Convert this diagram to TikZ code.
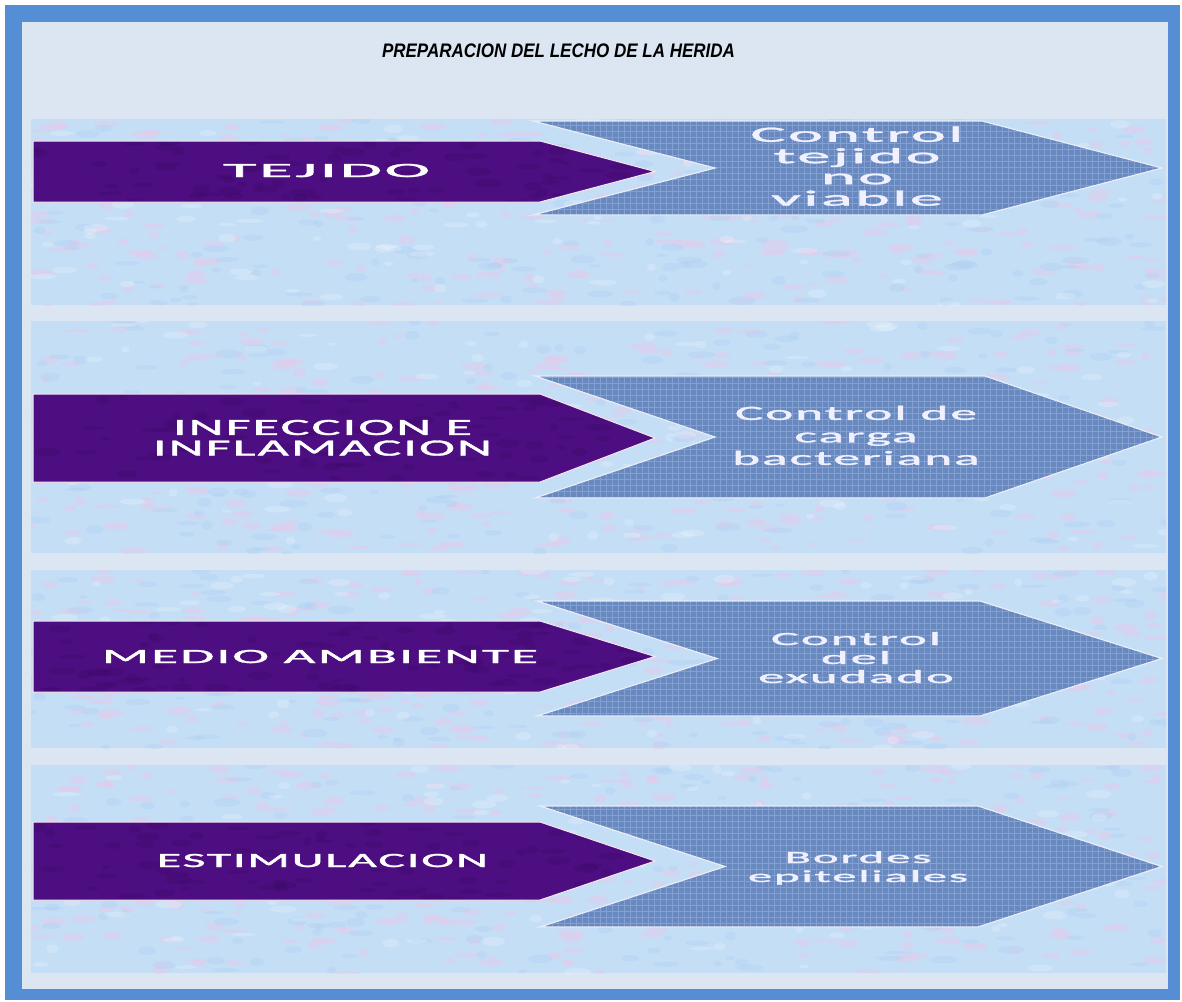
\documentclass[tikz,border=0pt]{standalone}
\usepackage{fontspec}
\usepackage{graphicx}
\usetikzlibrary{patterns}
\newfontfamily\smartfont{Carlito}[LetterSpace=4,FakeBold=1.3]
\newfontfamily\titlefont{Liberation Sans}
\definecolor{frameblue}{RGB}{85,142,213}
\definecolor{innerbg}{RGB}{220,230,242}
\definecolor{bandbase}{RGB}{196,222,246}
\definecolor{bandpink}{RGB}{228,204,236}
\definecolor{bandblue}{RGB}{176,208,242}
\definecolor{purplebox}{RGB}{76,14,128}
\definecolor{purpledark}{RGB}{60,10,104}
\definecolor{denim}{RGB}{104,136,192}
\definecolor{denimlight}{RGB}{132,160,208}

\newlength\hfitlen
\newcommand\stretchto[3]{\settowidth\hfitlen{#2}\pgfmathsetmacro\hfitfac{(#1)/\hfitlen}\scalebox{\hfitfac}[1]{#3}}

% random texture blobs inside a rectangle: x1 y1 x2 y2 style count
\newcommand\speckle[6]{%
  \foreach \k in {1,...,#6}{%
    \pgfmathsetmacro\spx{#1+rnd*(#3-#1)}%
    \pgfmathsetmacro\spy{#2+rnd*(#4-#2)}%
    \pgfmathsetmacro\spa{4+rnd*10}%
    \pgfmathsetmacro\spb{1.5+rnd*3}%
    \fill[#5] (\spx,\spy) ellipse [x radius=\spa, y radius=\spb];
  }}

\newcommand\texband[2]{%
  \fill[bandbase] (31,#1) rectangle (1166,#2);
  \begin{scope}
    \clip (31,#1) rectangle (1166,#2);
    \speckle{31}{#1}{1166}{#2}{bandpink,fill opacity=.5}{300}
    \speckle{31}{#1}{1166}{#2}{bandblue,fill opacity=.4}{180}
    \speckle{31}{#1}{1166}{#2}{white,fill opacity=.2}{100}
  \end{scope}}

\newcommand\purplearrow[2]{%
  \pgfmathsetmacro\pmid{(#1+#2)/2}%
  \fill[purplebox] (33,#1) -- (540,#1) -- (655,\pmid) -- (540,#2) -- (33,#2) -- cycle;
  \begin{scope}
    \clip (33,#1) -- (540,#1) -- (655,\pmid) -- (540,#2) -- (33,#2) -- cycle;
    \speckle{33}{#1}{655}{#2}{purpledark,fill opacity=.3}{90}
  \end{scope}
  \draw[white!90!purple, line width=0.5pt] (33,#1) -- (540,#1) -- (655,\pmid) -- (540,#2) -- (33,#2) -- cycle;}

% top bottom left notch flat
\newcommand\chevronshape[5]{%
  \pgfmathsetmacro\cmid{(#1+#2)/2}%
  \fill[denim] (#3,#1) -- (#5,#1) -- (1162,\cmid) -- (#5,#2) -- (#3,#2) -- (#4,\cmid) -- cycle;
  \fill[pattern=grid, pattern color=denimlight] (#3,#1) -- (#5,#1) -- (1162,\cmid) -- (#5,#2) -- (#3,#2) -- (#4,\cmid) -- cycle;
  \draw[white!85!denim, line width=0.6pt] (#3,#1) -- (#5,#1) -- (1162,\cmid) -- (#5,#2) -- (#3,#2) -- (#4,\cmid) -- cycle;}

\begin{document}
\begin{tikzpicture}[x=0.5pt,y=-0.5pt,
  ptext/.style 2 args={text=white, inner sep=0pt, font={\smartfont\fontsize{#1}{#2}\selectfont}},
  ctext/.style 2 args={text=white!94!blue, inner sep=0pt, font={\smartfont\fontsize{#1}{#2}\selectfont}},
]
\pgfmathsetseed{42}
\useasboundingbox (0,0) rectangle (1182,1001);
\fill[white] (0,0) rectangle (1182,1001);
\fill[frameblue] (5,5) rectangle (1180,1000);
\fill[innerbg] (22,22) rectangle (1168,989);

% title
\node[inner sep=0pt, anchor=base, font={\titlefont\bfseries\itshape\fontsize{9.8}{12}\selectfont}] (title) at (558.5,57)
  {\stretchto{176.5pt}{PREPARACION DEL LECHO DE LA HERIDA}{PREPARACION DEL LECHO DE LA HERIDA}};

% textured bands
\texband{119}{305}
\texband{321}{553}
\texband{570}{748}
\texband{765}{973}

% purple arrows
\purplearrow{141}{202}
\purplearrow{394}{482}
\purplearrow{621}{692}
\purplearrow{822}{900}

% blue chevrons
\chevronshape{121}{215}{533}{715}{982}
\chevronshape{376}{498}{535}{715}{985}
\chevronshape{601}{716}{537}{717}{980}
\chevronshape{806}{927}{540}{725}{978}

% purple labels
\node[ptext={10.1}{12}, anchor=base] (p1) at (326.5,177)
  {\stretchto{103.5pt}{TEJIDO}{TEJIDO}};
\node[ptext={11.6}{9.25}] (p2) at (322.5,440.5)
  {\stretchto{169.5pt}{INFLAMACION}{\begin{tabular}{@{}c@{}}INFECCION E\\INFLAMACION\end{tabular}}};
\node[ptext={10.1}{12}, anchor=base] (p3) at (320,663)
  {\stretchto{218pt}{MEDIO AMBIENTE}{MEDIO AMBIENTE}};
\node[ptext={10.1}{12}, anchor=base] (p4) at (322.5,867)
  {\stretchto{165.5pt}{ESTIMULACION}{ESTIMULACION}};

% chevron labels
\node[ctext={10.9}{10.5}] (c1) at (857,169.3)
  {\stretchto{106.5pt}{Control}{\begin{tabular}{@{}c@{}}Control\\tejido\\no\\viable\end{tabular}}};
\node[ctext={10.1}{11.25}] (c2) at (856,437.9)
  {\stretchto{121pt}{Control de}{\begin{tabular}{@{}c@{}}Control de\\carga\\bacteriana\end{tabular}}};
\node[ctext={9.3}{9.5}] (c3) at (856,660.2)
  {\stretchto{85pt}{Control}{\begin{tabular}{@{}c@{}}Control\\del\\exudado\end{tabular}}};
\node[ctext={8.5}{9.5}] (c4) at (858,868.7)
  {\stretchto{110pt}{epiteliales}{\begin{tabular}{@{}c@{}}Bordes\\epiteliales\end{tabular}}};
\end{tikzpicture}
\end{document}
